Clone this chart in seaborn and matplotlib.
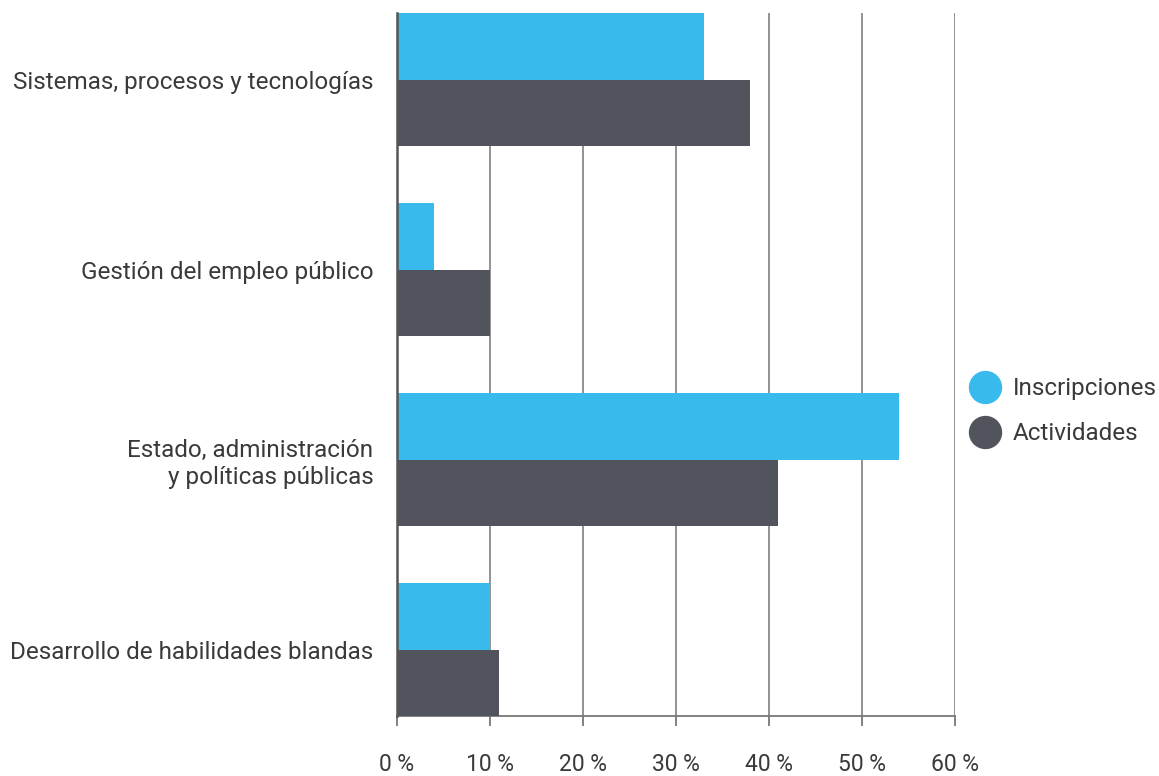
import matplotlib
matplotlib.use("Agg")
import matplotlib.pyplot as plt
from matplotlib.lines import Line2D
import seaborn as sns
import pandas as pd

categorias = [
    "Sistemas, procesos y tecnologías",
    "Gestión del empleo público",
    "Estado, administración\ny políticas públicas",
    "Desarrollo de habilidades blandas",
]
inscripciones = [33, 4, 54, 10]
actividades = [38, 10, 41, 11]
series = ["Inscripciones", "Actividades"]
ticks = [0, 10, 20, 30, 40, 50, 60]
tick_labels = ["0 %", "10 %", "20 %", "30 %", "40 %", "50 %", "60 %"]

colores = {"Inscripciones": "#38BBEC", "Actividades": "#51535D"}
texto = "#3a3a3a"

df = pd.DataFrame({
    "categoria": categorias * 2,
    "valor": inscripciones + actividades,
    "serie": [series[0]] * len(categorias) + [series[1]] * len(categorias),
})

sns.set_theme(style="white")
plt.rcParams["font.family"] = ["Roboto", "DejaVu Sans"]

fig = plt.figure(figsize=(11.59, 7.76), dpi=100)
ax = fig.add_axes([0.3425, 0.0773, 0.4815, 0.9059])

sns.barplot(data=df, y="categoria", x="valor", hue="serie", order=categorias,
            hue_order=series, palette=colores, orient="h", width=0.7,
            saturation=1, linewidth=0, edgecolor="none", ax=ax,
            legend=False, zorder=3)

ax.set_xlim(0, 60)
ax.set_ylim(len(categorias) - 0.65, -0.35)
ax.set_xticks(ticks)
ax.set_xticklabels(tick_labels)
ax.set_xlabel("")
ax.set_ylabel("")

ax.grid(axis="x", color="#8a8a8a", linewidth=1.3, zorder=0)
ax.grid(axis="y", visible=False)
ax.set_axisbelow(True)

for s in ["top", "right"]:
    ax.spines[s].set_visible(False)
ax.spines["left"].set_color("#555555")
ax.spines["left"].set_linewidth(1.8)
ax.spines["left"].set_zorder(5)
ax.spines["bottom"].set_color("#777777")
ax.spines["bottom"].set_linewidth(1.3)

ax.tick_params(axis="x", bottom=True, length=7.5, width=1.3, color="#777777",
               pad=19, labelsize=16.5, labelcolor=texto)
ax.tick_params(axis="y", left=False, length=0, pad=17, labelsize=17.5,
               labelcolor=texto)
for lbl in ax.get_yticklabels():
    lbl.set_horizontalalignment("right")
    lbl.set_multialignment("right")

handles = [Line2D([0], [0], marker="o", linestyle="", markersize=23,
                  markerfacecolor=colores[s], markeredgecolor=colores[s])
           for s in series]
fig.legend(handles, series, loc="center left", bbox_to_anchor=(0.835, 0.470),
           frameon=False, fontsize=17.5, labelcolor=texto,
           handletextpad=0.45, labelspacing=0.9, handlelength=1.4,
           borderaxespad=0, borderpad=0)

fig.savefig("out.png", dpi=100, facecolor="white")
